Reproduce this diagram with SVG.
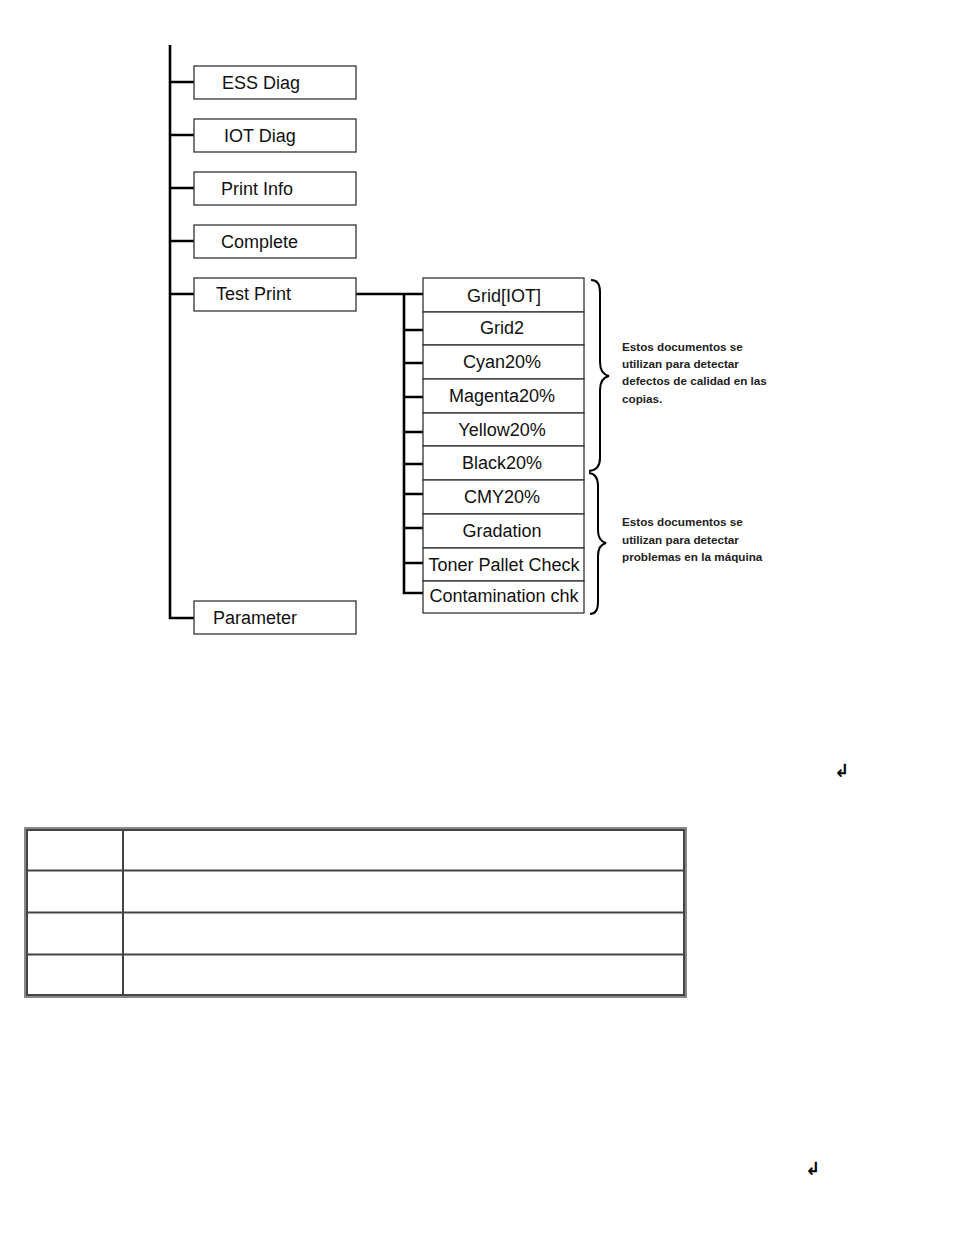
<svg xmlns="http://www.w3.org/2000/svg" width="954" height="1235" viewBox="0 0 954 1235">
<style>
.box{fill:#fff;stroke:#333;stroke-width:1.3}
.t{font-family:"Liberation Sans",Arial,sans-serif;font-size:18px;fill:#111}
.c{text-anchor:middle}
.ln{stroke:#000;stroke-width:2.6;fill:none}
.br{stroke:#000;stroke-width:2;fill:none}
.n{font-family:"Liberation Sans",Arial,sans-serif;font-size:11.7px;font-weight:bold;fill:#222}
.tb{fill:none;stroke:#444;stroke-width:2}
.ret{font-family:"DejaVu Sans",sans-serif;font-size:18px;font-weight:bold;fill:#000}
</style>
<rect width="954" height="1235" fill="#fff"/>
<g id="connectors">
<path class="ln" d="M170 45 V618 H194"/>
<path class="ln" d="M170 82 H194 M170 135 H194 M170 188 H194 M170 241 H194 M170 294 H194"/>
<path class="ln" d="M356 294 H423"/>
<path class="ln" d="M404 294 V593 H423"/>
<path class="ln" d="M404 330 H423 M404 363 H423 M404 397 H423 M404 432 H423 M404 464 H423 M404 494 H423 M404 528 H423 M404 563 H423"/>
</g>
<g id="ess"><rect class="box" x="194" y="66" width="162" height="33"/><text class="t" x="222" y="89">ESS Diag</text></g>
<g id="iot"><rect class="box" x="194" y="119" width="162" height="33"/><text class="t" x="224" y="142">IOT Diag</text></g>
<g id="printinfo"><rect class="box" x="194" y="172" width="162" height="33"/><text class="t" x="221" y="195">Print Info</text></g>
<g id="complete"><rect class="box" x="194" y="225" width="162" height="33"/><text class="t" x="221" y="248">Complete</text></g>
<g id="testprint"><rect class="box" x="194" y="278" width="162" height="33"/><text class="t" x="216" y="300">Test Print</text></g>
<g id="parameter"><rect class="box" x="194" y="601" width="162" height="33"/><text class="t" x="213" y="624">Parameter</text></g>
<g id="grid-iot"><rect class="box" x="423" y="278" width="161" height="34"/><text class="t c" x="504" y="302">Grid[IOT]</text></g>
<g id="grid2"><rect class="box" x="423" y="312" width="161" height="33"/><text class="t c" x="502" y="334">Grid2</text></g>
<g id="cyan"><rect class="box" x="423" y="345" width="161" height="34"/><text class="t c" x="502" y="368">Cyan20%</text></g>
<g id="magenta"><rect class="box" x="423" y="379" width="161" height="34"/><text class="t c" x="502" y="402">Magenta20%</text></g>
<g id="yellow"><rect class="box" x="423" y="413" width="161" height="33"/><text class="t c" x="502" y="436">Yellow20%</text></g>
<g id="black"><rect class="box" x="423" y="446" width="161" height="34"/><text class="t c" x="502" y="469">Black20%</text></g>
<g id="cmy"><rect class="box" x="423" y="480" width="161" height="34"/><text class="t c" x="502" y="503">CMY20%</text></g>
<g id="gradation"><rect class="box" x="423" y="514" width="161" height="34"/><text class="t c" x="502" y="537">Gradation</text></g>
<g id="toner"><rect class="box" x="423" y="548" width="161" height="33"/><text class="t c" x="504" y="571">Toner Pallet Check</text></g>
<g id="contamination"><rect class="box" x="423" y="581" width="161" height="32"/><text class="t c" x="504" y="602">Contamination chk</text></g>
<g id="brace1">
<path class="br" d="M591 280 Q600 280 600 292 V362 Q600 374 609 376 Q600 378 600 390 V458 Q600 470 589 471"/>
<text class="n"><tspan x="622" y="351">Estos documentos se</tspan><tspan x="622" y="368">utilizan para detectar</tspan><tspan x="622" y="385">defectos de calidad en las</tspan><tspan x="622" y="403">copias.</tspan></text>
</g>
<g id="brace2">
<path class="br" d="M589 473 Q598 474 598 486 V530 Q598 541 606 543 Q598 545 598 556 V602 Q598 614 590 614"/>
<text class="n"><tspan x="622" y="526">Estos documentos se</tspan><tspan x="622" y="544">utilizan para detectar</tspan><tspan x="622" y="561">problemas en la máquina</tspan></text>
</g>
<g id="table">
<rect x="25" y="828" width="661" height="169" fill="#fff" stroke="#888" stroke-width="2"/>
<rect x="27" y="830" width="657" height="165" class="tb" stroke-width="1"/>
<path d="M123 829 V996 M26 870.5 H685 M26 912.5 H685 M26 954.5 H685" stroke="#444" stroke-width="2" fill="none"/>
</g>
<text class="ret" x="834" y="777">↲</text>
<text class="ret" x="805" y="1175">↲</text>
</svg>
